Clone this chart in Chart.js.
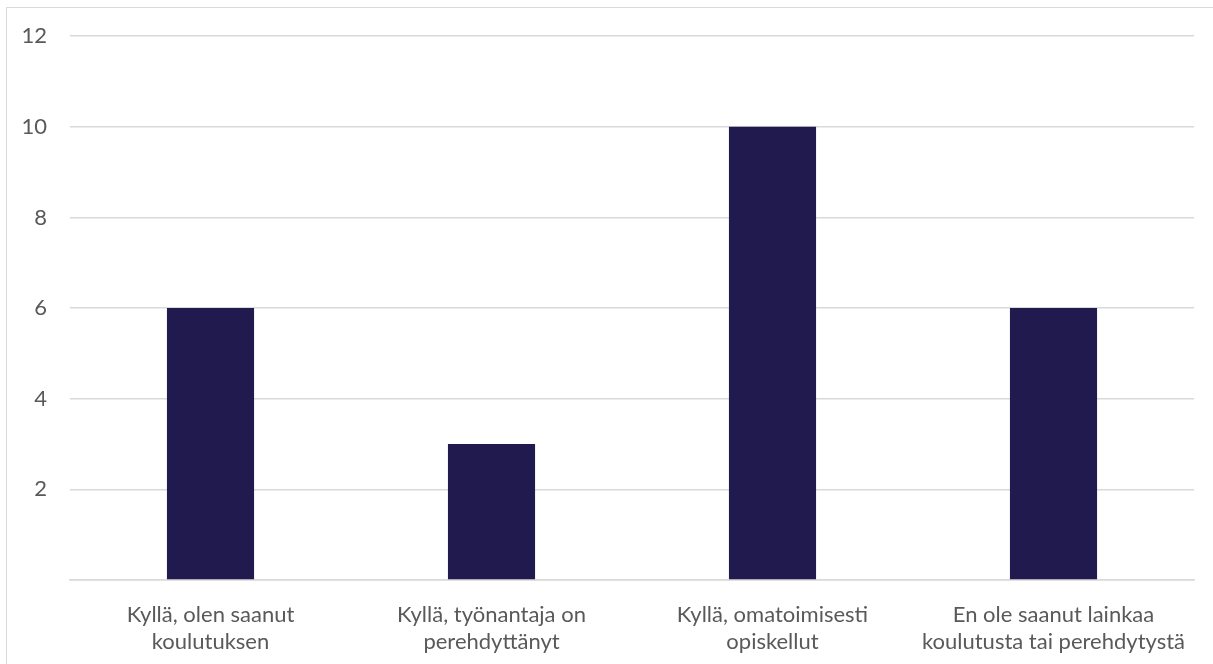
<!DOCTYPE html>
<html>
<head>
<meta charset="utf-8">
<script src="https://cdn.jsdelivr.net/npm/chart.js@4"></script>
<style>
  html, body { margin: 0; padding: 0; background: #fff; }
  #wrap { position: relative; width: 1213px; height: 664px; overflow: hidden; }
  #frame { position: absolute; left: 6px; top: 7px; width: 1300px; height: 800px;
           border-left: 1.5px solid #d9d9d9; border-top: 1.5px solid #d9d9d9; pointer-events: none; }
  canvas { position: absolute; left: 0; top: 0; }
</style>
</head>
<body>
<div id="wrap">
  <canvas id="c" width="1213" height="664"></canvas>
  <div id="frame"></div>
</div>
<script>
const categories = [
  ["Kyllä, olen saanut", "koulutuksen"],
  ["Kyllä, työnantaja on", "perehdyttänyt"],
  ["Kyllä, omatoimisesti", "opiskellut"],
  ["En ole saanut lainkaa", "koulutusta tai perehdytystä"]
];
const values = [6, 3, 10, 6];
const yTicks = [0, 2, 4, 6, 8, 10, 12];

const FONT = "Lato, 'Open Sans', sans-serif";
new Chart(document.getElementById('c'), {
  type: 'bar',
  data: {
    labels: categories,
    datasets: [{
      data: values,
      backgroundColor: '#201a4f',
      borderWidth: 0,
      categoryPercentage: 1,
      barPercentage: 0.31
    }]
  },
  options: {
    responsive: false,
    animation: false,
    devicePixelRatio: 1,
    layout: { padding: { top: 36, right: 19, left: 0, bottom: 0 } },
    plugins: { legend: { display: false }, tooltip: { enabled: false } },
    scales: {
      x: {
        grid: { display: false },
        border: { display: true, color: '#d9d9d9', width: 1.5 },
        ticks: { color: '#595959', font: { family: FONT, size: 22, lineHeight: 1.25 }, padding: 13, maxRotation: 0, autoSkip: false },
        afterFit: s => { s.height = 84; }
      },
      y: {
        min: 0, max: 12,
        afterBuildTicks: s => { s.ticks = yTicks.map(v => ({ value: v })); },
        grid: { color: '#d9d9d9', lineWidth: 1.5, drawTicks: false },
        border: { display: false },
        ticks: { color: '#595959', font: { family: FONT, size: 22 }, padding: 23,
                 callback: v => v === 0 ? '' : String(v) },
        afterFit: s => { s.width = 70; }
      }
    }
  }
});
</script>
</body>
</html>
